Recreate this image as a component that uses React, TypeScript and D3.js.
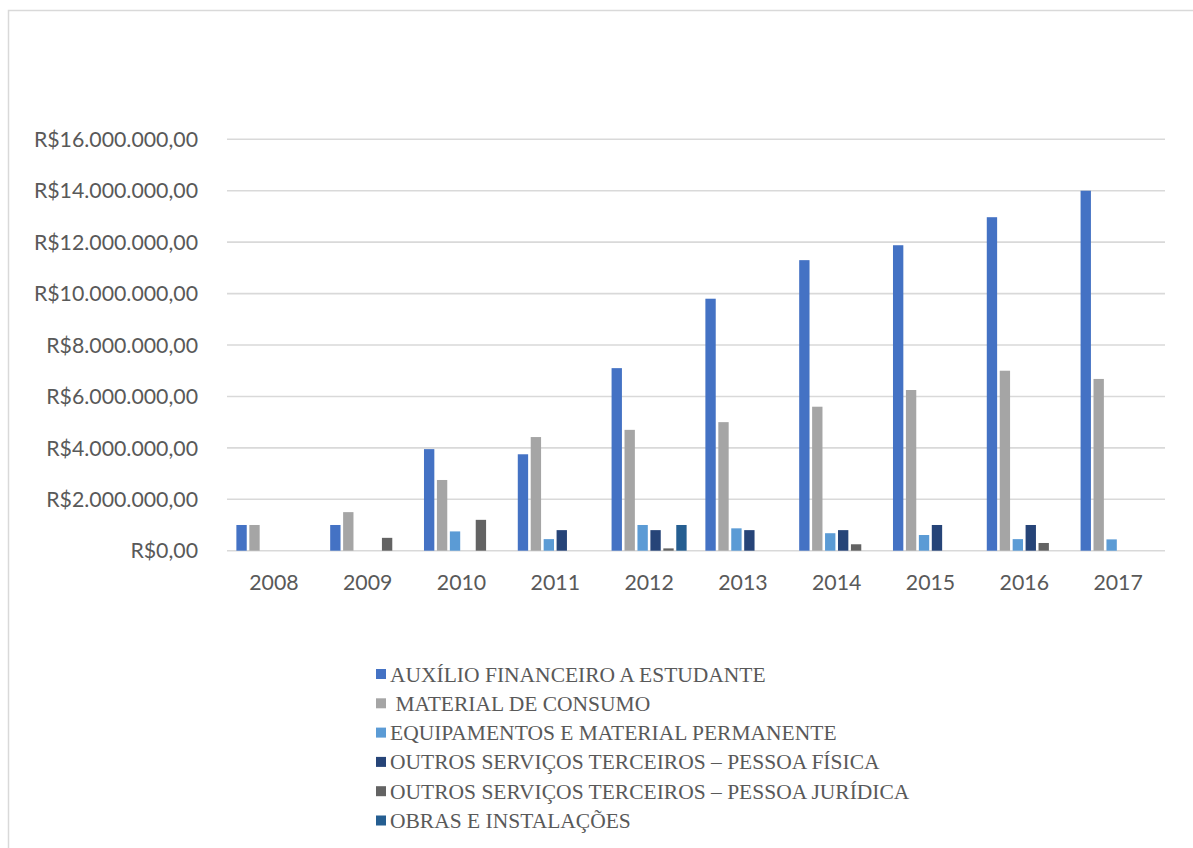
import React from "react";
import * as d3 from "d3";

const years = ["2008", "2009", "2010", "2011", "2012", "2013", "2014", "2015", "2016", "2017"];
const seriesNames = [
  "AUXÍLIO FINANCEIRO A ESTUDANTE",
  " MATERIAL DE CONSUMO",
  "EQUIPAMENTOS E MATERIAL PERMANENTE",
  "OUTROS SERVIÇOS TERCEIROS – PESSOA FÍSICA",
  "OUTROS SERVIÇOS TERCEIROS – PESSOA JURÍDICA",
  "OBRAS E INSTALAÇÕES",
];
const seriesColors = ["#4472C4", "#A5A5A5", "#5B9BD5", "#264478", "#636363", "#255E91"];

const auxilio = [1000000, 1000000, 3950000, 3750000, 7100000, 9800000, 11300000, 11880000, 12970000, 14000000];
const material = [1000000, 1500000, 2750000, 4420000, 4700000, 5000000, 5600000, 6250000, 7000000, 6680000];
const equipamentos = [0, 0, 750000, 450000, 1000000, 870000, 680000, 610000, 450000, 440000];
const pessoaFisica = [0, 0, 0, 800000, 800000, 800000, 800000, 1000000, 1000000, 0];
const pessoaJuridica = [0, 500000, 1200000, 0, 90000, 0, 250000, 0, 300000, 0];
const obras = [0, 0, 0, 0, 1000000, 0, 0, 0, 0, 0];

const yTicks = [0, 2000000, 4000000, 6000000, 8000000, 10000000, 12000000, 14000000, 16000000];

const allSeries = [auxilio, material, equipamentos, pessoaFisica, pessoaJuridica, obras];

const fmt = (v: number) => {
  const s = d3.format(",")(v).replace(/,/g, ".");
  return "R$" + s + ",00";
};

export default function App() {
  const W = 1193;
  const H = 848;
  const left = 227;
  const right = 1165;
  const y0 = 550.7;
  const yTop = 139.3;

  const x = d3.scaleBand<string>().domain(years).range([left, right]).paddingInner(0.2).paddingOuter(0.1);
  const xi = d3
    .scaleBand<number>()
    .domain(d3.range(allSeries.length))
    .range([0, x.bandwidth()])
    .paddingInner(0.2);
  const y = d3.scaleLinear().domain([0, 16000000]).range([y0, yTop]);

  const axisFont = "Lato, 'Open Sans', sans-serif";
  const serifFont = "Liberation Serif, DejaVu Serif, Times New Roman, serif";

  return (
    <svg
      width={W}
      height={H}
      style={{ position: "absolute", left: 0, top: 0, background: "#fff" }}
    >
      <rect x={8.5} y={10.5} width={W + 20} height={H + 20} fill="#fff" stroke="#d9d9d9" strokeWidth={1.5} />
      {yTicks.map((t) => (
        <g key={t}>
          <line x1={left} x2={right} y1={y(t)} y2={y(t)} stroke="#d9d9d9" strokeWidth={1.6} />
          <text
            x={198}
            y={y(t)}
            dy="0.36em"
            textAnchor="end"
            fontFamily={axisFont}
            fontSize={21.3}
            fill="#595959"
          >
            {fmt(t)}
          </text>
        </g>
      ))}
      {years.map((yr, i) => (
        <g key={yr}>
          {allSeries.map((s, si) =>
            s[i] > 0 ? (
              <rect
                key={si}
                x={(x(yr) as number) + (xi(si) as number)}
                y={y(s[i])}
                width={xi.bandwidth()}
                height={y0 - y(s[i])}
                fill={seriesColors[si]}
              />
            ) : null
          )}
          <text
            x={(x(yr) as number) + x.bandwidth() / 2}
            y={582}
            dy="0.36em"
            textAnchor="middle"
            fontFamily={axisFont}
            fontSize={21.3}
            fill="#595959"
          >
            {yr}
          </text>
        </g>
      ))}
      {seriesNames.map((n, i) => {
        const cy = 674 + i * 29.3;
        return (
          <g key={i}>
            <rect x={376} y={cy - 5} width={10} height={10} fill={seriesColors[i]} />
            <text
              x={390}
              y={cy}
              dy="0.35em"
              fontFamily={serifFont}
              fontSize={21.5}
              fill="#595959"
              style={{ whiteSpace: "pre" }}
            >
              {n}
            </text>
          </g>
        );
      })}
    </svg>
  );
}
